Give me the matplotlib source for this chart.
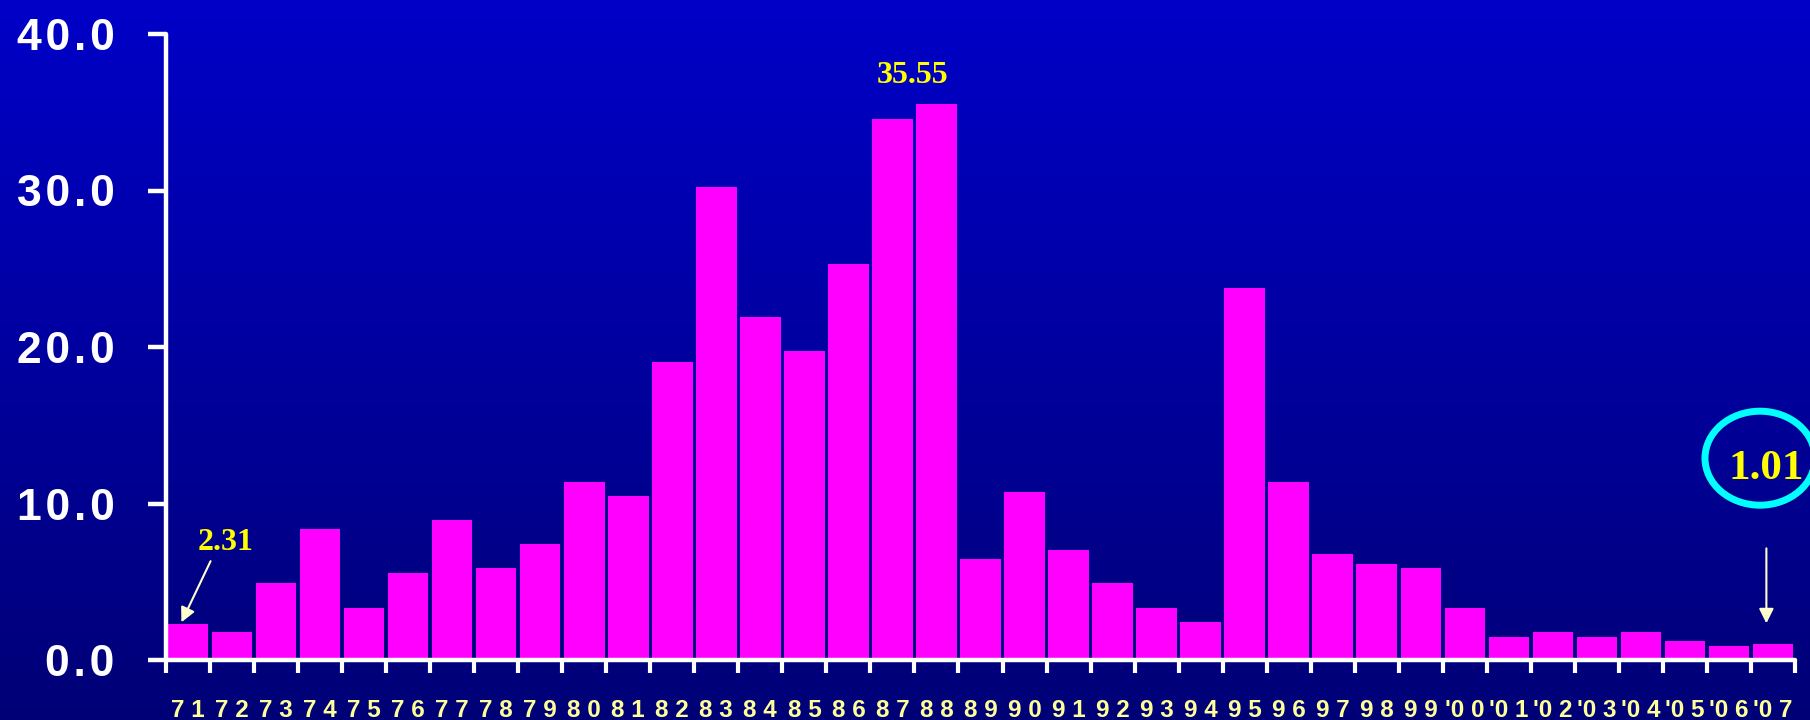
import numpy as np
import matplotlib
matplotlib.use("Agg")
import matplotlib.pyplot as plt
from matplotlib.patches import Ellipse

plt.rcParams['font.family'] = ['Liberation Sans', 'DejaVu Sans']

# data
years = ["71", "72", "73", "74", "75", "76", "77", "78", "79", "80",
         "81", "82", "83", "84", "85", "86", "87", "88", "89", "90",
         "91", "92", "93", "94", "95", "96", "97", "98", "99",
         "'00", "'01", "'02", "'03", "'04", "'05", "'06", "'07"]
values = [2.31, 1.8, 4.9, 8.35, 3.3, 5.55, 8.95, 5.85, 7.4, 11.4,
          10.45, 19.05, 30.2, 21.9, 19.75, 25.3, 34.6, 35.55, 6.45, 10.75,
          7.05, 4.9, 3.3, 2.4, 23.75, 11.4, 6.75, 6.15, 5.85,
          3.3, 1.45, 1.8, 1.45, 1.8, 1.2, 0.9, 1.01]
yticks = [0, 10, 20, 30, 40]

bar_color = "#FF00FF"
label_yellow = "#FFFF99"
note_yellow = "#FFFF00"
arrow_color = "#FFFFCC"

fig = plt.figure(figsize=(18.1, 7.2), dpi=100)

# gradient background
bg = fig.add_axes([0, 0, 1, 1], zorder=-10)
grad = np.linspace(0, 1, 256)[:, None]
top = np.array([0, 0, 200]) / 255
bot = np.array([0, 0, 118]) / 255
img = top[None, None, :] * (1 - grad[..., None]) + bot[None, None, :] * grad[..., None]
bg.imshow(np.repeat(img, 2, axis=1), aspect='auto', extent=[0, 1, 0, 1])
bg.set_axis_off()

ax = fig.add_axes([166 / 1810, 60 / 720, (1795 - 166) / 1810, (686 - 60) / 720])
ax.set_facecolor('none')

x = np.arange(len(years))
ax.bar(x, values, width=0.92, color=bar_color, zorder=2)

ax.set_xlim(-0.5, len(years) - 0.5)
ax.set_ylim(0, 40)

for s in ["top", "right"]:
    ax.spines[s].set_visible(False)
for s in ["left", "bottom"]:
    ax.spines[s].set_color("white")
    ax.spines[s].set_linewidth(3.2)
    ax.spines[s].set_capstyle('round')

ax.set_yticks(yticks)
ax.set_yticklabels(["\u200a".join(f"{v:.1f}") for v in yticks],
                   color="white", fontsize=32, fontweight="bold")
ax.tick_params(axis='y', length=13, width=3.2, color="white", pad=24)

# spaced-out year labels, e.g. "7 1" and "'0 0"
xlabels = [("'" + " ".join(y[1:])) if y.startswith("'") else " ".join(y) for y in years]
ax.set_xticks(x)
ax.set_xticklabels(xlabels, color=label_yellow, fontsize=17.5, fontweight="bold")
ax.set_xticks(np.arange(-0.5, len(years)), minor=True)
ax.tick_params(axis='x', which='major', length=0, pad=28)
ax.tick_params(axis='x', which='minor', length=9, width=3, color="white", direction='out')

# annotations
ax.annotate("", xy=(-0.15, values[0] + 0.1), xytext=(21, 44), textcoords='offset points',
            arrowprops=dict(arrowstyle='-|>', color=arrow_color, lw=1.5, mutation_scale=22,
                            shrinkA=0, shrinkB=0))
ax.annotate(f"{values[0]:.2f}", xy=(0, values[0]), xytext=(27, 58.5), textcoords='offset points',
            ha='center', va='center', color=note_yellow, fontsize=23, fontweight='bold',
            family='Liberation Serif')

i_max = int(np.argmax(values))
ax.annotate(f"{values[i_max]:.2f}", xy=(i_max, values[i_max]), xytext=(-17, 20.5),
            textcoords='offset points', ha='center', va='center', color=note_yellow,
            fontsize=23, fontweight='bold', family='Liberation Serif')

i_last = len(values) - 1
ax.annotate("", xy=(i_last - 0.15, values[-1]), xytext=(0, 69), textcoords='offset points',
            arrowprops=dict(arrowstyle='-|>', color=arrow_color, lw=1.5, mutation_scale=22,
                            shrinkA=0, shrinkB=15))
ax.annotate(f"{values[-1]:.2f}", xy=(i_last, values[-1]), xytext=(-5, 126),
            textcoords='offset points', ha='center', va='center', color=note_yellow,
            fontsize=31, fontweight='bold', family='Liberation Serif')

# ellipse drawn in pixel space around the "1.01" label
px, py = ax.transData.transform((i_last, values[-1]))
ell = Ellipse((px - 13, py + 186), width=110, height=94, transform=None,
              fill=False, edgecolor="#00FFFF", lw=5, clip_on=False)
fig.add_artist(ell)

fig.savefig("out.png", dpi=100)
